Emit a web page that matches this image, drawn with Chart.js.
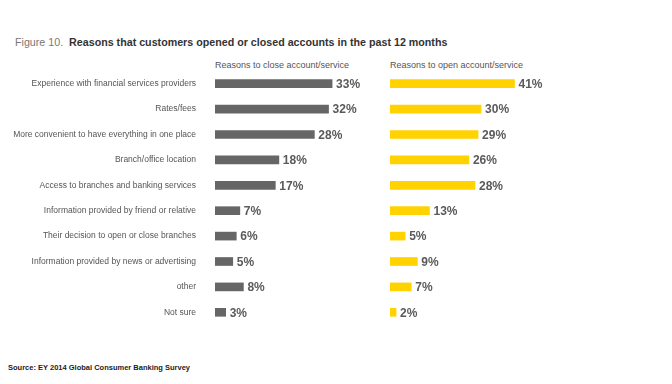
<!DOCTYPE html>
<html lang="en">
<head>
    <meta charset="UTF-8">
    <title>Figure 10</title>
    <script src="https://cdn.jsdelivr.net/npm/chart.js"></script>
    <style>
        body {
            margin: 0;
            background: #fff;
            font-family: "Liberation Sans", Arial, sans-serif;
        }
        #wrap {
            position: relative;
            width: 672px;
            height: 384px;
            overflow: hidden;
        }
        .txt {
            position: absolute;
            white-space: nowrap;
        }
        #title { left: 15px; top: 36px; font-size: 10.7px; color: #333; }
        #title span { color: #777; font-weight: normal; }
        #title b { font-weight: bold; }
        .head { top: 60px; font-size: 9px; color: #555; }
        #source { left: 8px; top: 363px; font-size: 7.5px; color: #222; font-weight: bold; }
        canvas { position: absolute; }
    </style>
</head>
<body>
<div id="wrap">
    <div class="txt" id="title"><span>Figure 10.</span>&nbsp; <b>Reasons that customers opened or closed accounts in the past 12 months</b></div>
    <div class="txt head" style="left:215px">Reasons to close account/service</div>
    <div class="txt head" style="left:390px">Reasons to open account/service</div>
    <canvas id="closeChart" width="380" height="254" style="left:0; top:71px"></canvas>
    <canvas id="openChart" width="170" height="254" style="left:390px; top:71px"></canvas>
    <div class="txt" id="source">Source: EY 2014 Global Consumer Banking Survey</div>
</div>

<script>
    const reasons = [
        'Experience with financial services providers',
        'Rates/fees',
        'More convenient to have everything in one place',
        'Branch/office location',
        'Access to branches and banking services',
        'Information provided by friend or relative',
        'Their decision to open or close branches',
        'Information provided by news or advertising',
        'other',
        'Not sure'
    ];
    const closeValues = [33, 32, 28, 18, 17, 7, 6, 5, 8, 3];
    const openValues = [41, 30, 29, 26, 28, 13, 5, 9, 7, 2];

    // percent label at the end of each bar
    const valueLabels = {
        id: 'valueLabels',
        afterDatasetsDraw(chart) {
            const ctx = chart.ctx;
            const meta = chart.getDatasetMeta(0);
            ctx.save();
            ctx.font = 'bold 12px "Liberation Sans"';
            ctx.fillStyle = '#5a5a5a';
            ctx.textBaseline = 'middle';
            meta.data.forEach((bar, i) => {
                ctx.fillText(chart.data.datasets[0].data[i] + '%', bar.x + 4, bar.y + 1);
            });
            ctx.restore();
        }
    };

    function makeChart(id, values, color, showLabels, xMax) {
        const yScale = {
            display: showLabels,
            grid: { display: false },
            border: { display: false },
            ticks: {
                padding: 11,
                color: '#555',
                font: { family: 'Liberation Sans', size: 8.5 }
            }
        };
        if (showLabels) {
            yScale.afterFit = (scale) => {
                scale.width = 215;
                scale.paddingTop = 0;
                scale.paddingBottom = 0;
            };
        }
        return new Chart(document.getElementById(id), {
            type: 'bar',
            data: {
                labels: reasons,
                datasets: [{
                    data: values,
                    backgroundColor: color,
                    barThickness: 8
                }]
            },
            options: {
                indexAxis: 'y',
                responsive: false,
                animation: false,
                layout: { padding: 0 },
                plugins: {
                    legend: { display: false },
                    tooltip: { enabled: false }
                },
                scales: {
                    x: {
                        display: false,
                        min: 0,
                        max: xMax
                    },
                    y: yScale
                }
            },
            plugins: [valueLabels]
        });
    }

    makeChart('closeChart', closeValues, '#666666', true, 46.5);
    makeChart('openChart', openValues, '#ffd200', false, 56);
</script>
</body>
</html>
